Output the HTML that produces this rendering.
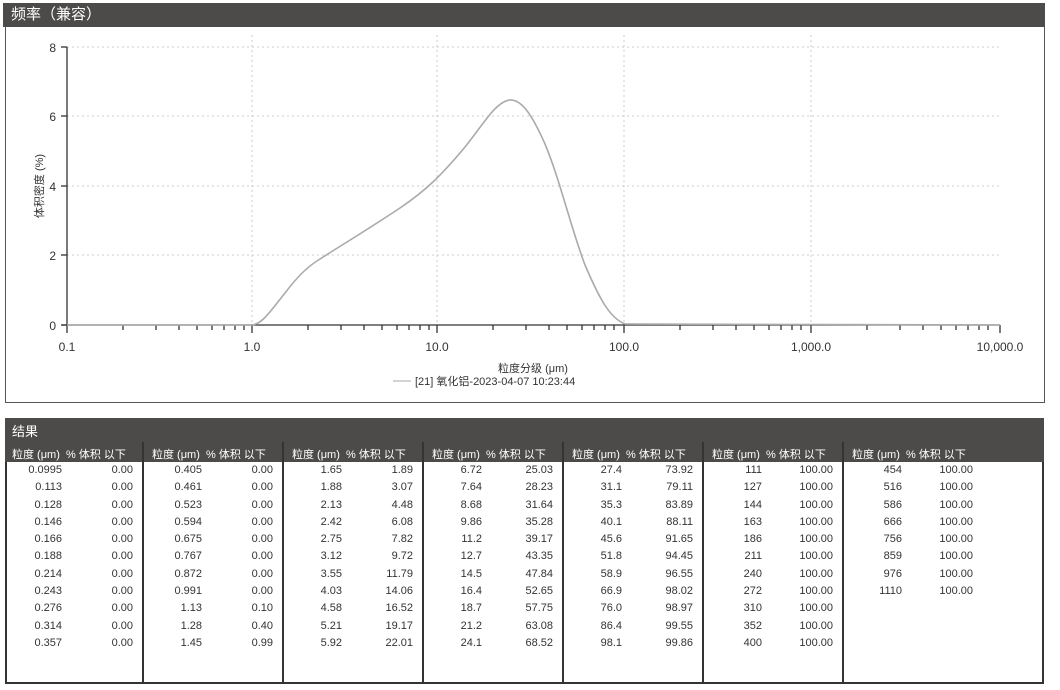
<!DOCTYPE html><html><head><meta charset="utf-8"><style>
body{margin:0;width:1060px;height:690px;background:#fff;position:relative;font-family:"Liberation Sans","Noto Sans CJK SC",sans-serif;overflow:hidden}
.bar{position:absolute;background:#4d4b4a;color:#fff}
.col{position:absolute;top:462px;font-size:11px;color:#333;line-height:17.3px;text-align:right}
.hd{position:absolute;top:446px;font-size:11px;color:#fff}
.sep{position:absolute;top:442px;width:2px;height:242px;background:#333}
</style></head><body>
<div class="bar" style="left:3px;top:3px;width:1042px;height:24px;font-size:15px;line-height:24px;padding-left:8px;box-sizing:border-box">频率（兼容）</div>
<div style="position:absolute;left:5px;top:27px;width:1040px;height:376px;border:1px solid #555;border-top:none;box-sizing:border-box"></div>
<svg style="position:absolute;left:0;top:0" width="1060" height="410">
<g stroke="#ccc" stroke-dasharray="2,3" stroke-width="1">
<line x1="67" y1="47" x2="1000" y2="47"/><line x1="67" y1="116" x2="1000" y2="116"/><line x1="67" y1="186" x2="1000" y2="186"/><line x1="67" y1="255" x2="1000" y2="255"/>
<line x1="252" y1="35" x2="252" y2="325"/><line x1="437" y1="35" x2="437" y2="325"/><line x1="624" y1="35" x2="624" y2="325"/><line x1="811" y1="35" x2="811" y2="325"/>
</g>
<g stroke="#333" stroke-width="1.3">
<line x1="67" y1="47" x2="67" y2="325"/><line x1="62" y1="325" x2="1000" y2="325"/>
<line x1="61" y1="47" x2="67" y2="47"/><line x1="61" y1="116" x2="67" y2="116"/><line x1="61" y1="186" x2="67" y2="186"/><line x1="61" y1="255" x2="67" y2="255"/><line x1="61" y1="325" x2="67" y2="325"/>
<path d="M67 325v8M123 325v5M156 325v5M179 325v5M197 325v5M212 325v5M224 325v5M235 325v5M244 325v5M252 325v8M308 325v5M341 325v5M364 325v5M382 325v5M397 325v5M409 325v5M420 325v5M429 325v5M437 325v8M493 325v5M526 325v5M549 325v5M567 325v5M582 325v5M594 325v5M605 325v5M614 325v5M624 325v8M680 325v5M713 325v5M736 325v5M754 325v5M769 325v5M781 325v5M792 325v5M801 325v5M811 325v8M867 325v5M900 325v5M923 325v5M941 325v5M956 325v5M968 325v5M979 325v5M988 325v5M1000 325v8"/>
</g>
<path d="M67 325L252 325C262 324 270 312 285 293C295 280 305 268 320 259C345 243 370 228 400 208C425 191 440 177 465 147C485 122 495 103 509 100C520 99 530 110 545 144C560 180 570 225 585 265C600 300 610 318 625 324C632 325 640 325 1000 325" fill="none" stroke="#aaa" stroke-width="1.6"/>
<g font-size="12" fill="#333" text-anchor="end"><text x="56" y="52">8</text><text x="56" y="121">6</text><text x="56" y="191">4</text><text x="56" y="260">2</text><text x="56" y="330">0</text></g>
<g font-size="12" fill="#333" text-anchor="middle"><text x="67" y="351">0.1</text><text x="252" y="351">1.0</text><text x="437" y="351">10.0</text><text x="624" y="351">100.0</text><text x="811" y="351">1,000.0</text><text x="1000" y="351">10,000.0</text>
<text x="533" y="372" font-size="11">粒度分级 (μm)</text></g>
<text x="0" y="0" font-size="11" fill="#333" transform="translate(43,186) rotate(-90)" text-anchor="middle">体积密度 (%)</text>
<line x1="393" y1="381" x2="411" y2="381" stroke="#aaa"/>
<text x="415" y="385" font-size="11" fill="#333">[21] 氧化铝-2023-04-07 10:23:44</text>
</svg>
<div class="bar" style="left:5px;top:418px;width:1039px;height:44px;font-size:13px;padding:3px 7px;box-sizing:border-box">结果</div>
<div style="position:absolute;left:5px;top:462px;width:1039px;height:222px;border:2px solid #333;border-top:none;box-sizing:border-box"></div>
<div class="sep" style="left:142px"></div><div class="sep" style="left:282px"></div><div class="sep" style="left:422px"></div><div class="sep" style="left:562px"></div><div class="sep" style="left:702px"></div><div class="sep" style="left:842px"></div>
<div class="hd" style="left:12px">粒度 (μm)&nbsp;&nbsp;% 体积 以下</div>
<div class="hd" style="left:152px">粒度 (μm)&nbsp;&nbsp;% 体积 以下</div>
<div class="hd" style="left:292px">粒度 (μm)&nbsp;&nbsp;% 体积 以下</div>
<div class="hd" style="left:432px">粒度 (μm)&nbsp;&nbsp;% 体积 以下</div>
<div class="hd" style="left:572px">粒度 (μm)&nbsp;&nbsp;% 体积 以下</div>
<div class="hd" style="left:712px">粒度 (μm)&nbsp;&nbsp;% 体积 以下</div>
<div class="hd" style="left:852px">粒度 (μm)&nbsp;&nbsp;% 体积 以下</div>
<div class="col" style="left:12px;width:50px">0.0995<br>0.113<br>0.128<br>0.146<br>0.166<br>0.188<br>0.214<br>0.243<br>0.276<br>0.314<br>0.357</div>
<div class="col" style="left:83px;width:50px">0.00<br>0.00<br>0.00<br>0.00<br>0.00<br>0.00<br>0.00<br>0.00<br>0.00<br>0.00<br>0.00</div>
<div class="col" style="left:152px;width:50px">0.405<br>0.461<br>0.523<br>0.594<br>0.675<br>0.767<br>0.872<br>0.991<br>1.13<br>1.28<br>1.45</div>
<div class="col" style="left:223px;width:50px">0.00<br>0.00<br>0.00<br>0.00<br>0.00<br>0.00<br>0.00<br>0.00<br>0.10<br>0.40<br>0.99</div>
<div class="col" style="left:292px;width:50px">1.65<br>1.88<br>2.13<br>2.42<br>2.75<br>3.12<br>3.55<br>4.03<br>4.58<br>5.21<br>5.92</div>
<div class="col" style="left:363px;width:50px">1.89<br>3.07<br>4.48<br>6.08<br>7.82<br>9.72<br>11.79<br>14.06<br>16.52<br>19.17<br>22.01</div>
<div class="col" style="left:432px;width:50px">6.72<br>7.64<br>8.68<br>9.86<br>11.2<br>12.7<br>14.5<br>16.4<br>18.7<br>21.2<br>24.1</div>
<div class="col" style="left:503px;width:50px">25.03<br>28.23<br>31.64<br>35.28<br>39.17<br>43.35<br>47.84<br>52.65<br>57.75<br>63.08<br>68.52</div>
<div class="col" style="left:572px;width:50px">27.4<br>31.1<br>35.3<br>40.1<br>45.6<br>51.8<br>58.9<br>66.9<br>76.0<br>86.4<br>98.1</div>
<div class="col" style="left:643px;width:50px">73.92<br>79.11<br>83.89<br>88.11<br>91.65<br>94.45<br>96.55<br>98.02<br>98.97<br>99.55<br>99.86</div>
<div class="col" style="left:712px;width:50px">111<br>127<br>144<br>163<br>186<br>211<br>240<br>272<br>310<br>352<br>400</div>
<div class="col" style="left:783px;width:50px">100.00<br>100.00<br>100.00<br>100.00<br>100.00<br>100.00<br>100.00<br>100.00<br>100.00<br>100.00<br>100.00</div>
<div class="col" style="left:852px;width:50px">454<br>516<br>586<br>666<br>756<br>859<br>976<br>1110</div>
<div class="col" style="left:923px;width:50px">100.00<br>100.00<br>100.00<br>100.00<br>100.00<br>100.00<br>100.00<br>100.00</div>
</body></html>
